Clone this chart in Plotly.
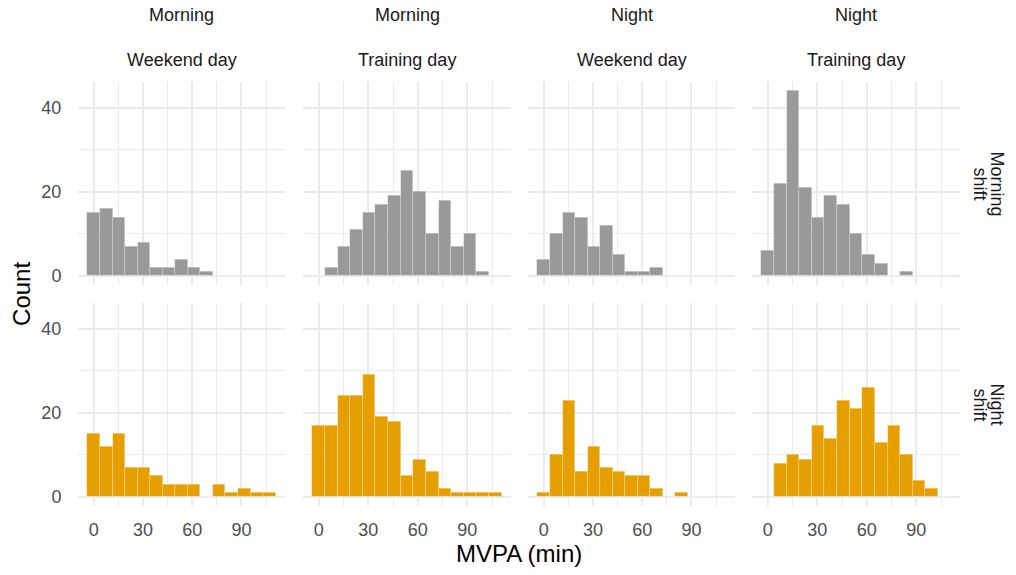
import plotly.graph_objects as go

# ---------------- data ----------------
BIN_WIDTH = 7.64
N_BINS = 15
bin_centers = [round(i * BIN_WIDTH, 2) for i in range(N_BINS)]

time_labels = ["Morning", "Morning", "Night", "Night"]
day_labels = ["Weekend day", "Training day", "Weekend day", "Training day"]
shift_labels = [["Morning", "shift"], ["Night", "shift"]]

# counts per bin, row = shift, column = (time, day)
morning_shift_counts = [
    [15, 16, 14, 7, 8, 2, 2, 4, 2, 1, 0, 0, 0, 0, 0],
    [0, 2, 7, 11, 15, 17, 19, 25, 20, 10, 18, 7, 10, 1, 0],
    [4, 10, 15, 14, 7, 12, 5, 1, 1, 2, 0, 0, 0, 0, 0],
    [6, 22, 44, 21, 14, 19, 17, 10, 5, 3, 0, 1, 0, 0, 0],
]
night_shift_counts = [
    [15, 12, 15, 7, 7, 5, 3, 3, 3, 0, 3, 1, 2, 1, 1],
    [17, 17, 24, 24, 29, 19, 18, 5, 9, 6, 2, 1, 1, 1, 1],
    [1, 10, 23, 6, 12, 7, 6, 5, 5, 2, 0, 1, 0, 0, 0],
    [0, 8, 10, 9, 17, 14, 23, 21, 26, 13, 17, 10, 4, 2, 0],
]
row_counts = [morning_shift_counts, night_shift_counts]
row_colors = ["#999999", "#E69F00"]

x_ticks = [0, 30, 60, 90]
y_ticks = [0, 20, 40]

# ---------------- layout geometry ----------------
W, H = 1016, 575
col_px = [(78, 285), (303, 511), (528, 735), (752, 960)]
row_px = [(81.6, 285.3), (302.6, 506.3)]
x_range = [-9.55, 116.5]
y_range = [-2.2, 46.2]

GRID = "#ebebeb"
FONT = "Liberation Sans, Arial, sans-serif"
STRIP_FONT = dict(size=18, color="#1a1a1a", family=FONT)
TICK_FONT = dict(size=18, color="#4d4d4d", family=FONT)
TITLE_FONT = dict(size=24, color="black", family=FONT)

fig = go.Figure()
layout = dict(
    width=W, height=H,
    margin=dict(l=0, r=0, t=0, b=0),
    paper_bgcolor="white", plot_bgcolor="white",
    showlegend=False,
    bargap=0,
    font=dict(family=FONT),
)

annotations = []
idx = 0
for r in range(2):
    for c in range(4):
        idx += 1
        xa = "x" if idx == 1 else f"x{idx}"
        ya = "y" if idx == 1 else f"y{idx}"
        fig.add_trace(go.Bar(
            x=bin_centers, y=row_counts[r][c], width=BIN_WIDTH,
            marker=dict(color=row_colors[r],
                        line=dict(color="rgba(255,255,255,0.35)", width=0.6)),
            xaxis=xa, yaxis=ya, hoverinfo="x+y",
        ))
        x0, x1 = col_px[c]
        y0, y1 = row_px[r]
        layout["xaxis" if idx == 1 else f"xaxis{idx}"] = dict(
            domain=[x0 / W, x1 / W], anchor=ya, range=x_range,
            tickmode="array", tickvals=x_ticks,
            showticklabels=(r == 1),
            ticks="outside", ticklen=7, tickcolor="rgba(0,0,0,0)",
            tickfont=TICK_FONT,
            showgrid=True, gridcolor=GRID, gridwidth=2,
            minor=dict(tickvals=[15, 45, 75, 105], showgrid=True,
                       gridcolor=GRID, gridwidth=1.2),
            zeroline=False, showline=False, fixedrange=True,
        )
        layout["yaxis" if idx == 1 else f"yaxis{idx}"] = dict(
            domain=[1 - y1 / H, 1 - y0 / H], anchor=xa, range=y_range,
            tickmode="array", tickvals=y_ticks,
            showticklabels=(c == 0),
            ticks="outside", ticklen=12, tickcolor="rgba(0,0,0,0)",
            tickfont=TICK_FONT,
            showgrid=True, gridcolor=GRID, gridwidth=2,
            minor=dict(tickvals=[10, 30], showgrid=True,
                       gridcolor=GRID, gridwidth=1.2),
            zeroline=False, showline=False, fixedrange=True,
        )

# strip labels (top)
for c in range(4):
    cx = (col_px[c][0] + col_px[c][1]) / 2 / W
    annotations.append(dict(x=cx, y=1 - 15 / H, xref="paper", yref="paper",
                            text=time_labels[c], showarrow=False, font=STRIP_FONT,
                            xanchor="center", yanchor="middle"))
    annotations.append(dict(x=cx, y=1 - 60 / H, xref="paper", yref="paper",
                            text=day_labels[c], showarrow=False, font=STRIP_FONT,
                            xanchor="center", yanchor="middle"))
# strip labels (right), one annotation per line for tight line spacing
for r in range(2):
    cy = (row_px[r][0] + row_px[r][1]) / 2
    for line, px in zip(shift_labels[r], [997, 980]):
        annotations.append(dict(x=px / W, y=1 - cy / H, xref="paper", yref="paper",
                                text=line, showarrow=False, textangle=90,
                                font=STRIP_FONT,
                                xanchor="center", yanchor="middle"))
# axis titles
annotations.append(dict(x=(col_px[0][0] + col_px[3][1]) / 2 / W, y=1 - 553 / H,
                        xref="paper", yref="paper", text="MVPA (min)",
                        showarrow=False, font=TITLE_FONT,
                        xanchor="center", yanchor="middle"))
annotations.append(dict(x=22 / W, y=1 - ((row_px[0][0] + row_px[1][1]) / 2) / H,
                        xref="paper", yref="paper", text="Count", textangle=-90,
                        showarrow=False, font=TITLE_FONT,
                        xanchor="center", yanchor="middle"))

layout["annotations"] = annotations
fig.update_layout(**layout)
fig.write_html("out.html")
